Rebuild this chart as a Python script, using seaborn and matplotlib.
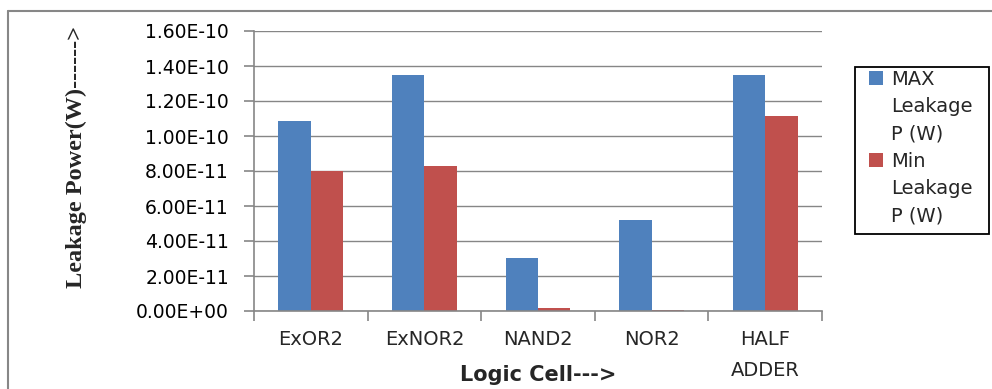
import matplotlib
matplotlib.use("Agg")
import matplotlib.pyplot as plt
from matplotlib.lines import Line2D
from matplotlib.patches import Patch, Rectangle
import seaborn as sns
import pandas as pd
import numpy as np

categories = ["ExOR2", "ExNOR2", "NAND2", "NOR2", "HALF\nADDER"]
max_leak = [1.086e-10, 1.349e-10, 3.03e-11, 5.2e-11, 1.349e-10]
min_leak = [8.0e-11, 8.3e-11, 1.7e-12, 6e-13, 1.114e-10]
series = ["MAX Leakage P (W)", "Min Leakage P (W)"]
legend_lines = [["MAX", "Leakage", "P (W)"], ["Min", "Leakage", "P (W)"]]
yticks = [0, 2e-11, 4e-11, 6e-11, 8e-11, 1e-10, 1.2e-10, 1.4e-10, 1.6e-10]
colors = ["#4F81BD", "#C0504D"]

df = pd.DataFrame({
    "cell": categories * 2,
    "value": max_leak + min_leak,
    "series": [series[0]] * len(categories) + [series[1]] * len(categories),
})

grid_c = "#868686"
sns.set_style("white", {"ytick.left": True, "xtick.bottom": True})
plt.rcParams["font.family"] = ["DejaVu Sans"]

W, H = 992, 389
fig = plt.figure(figsize=(W / 100, H / 100), dpi=100)
ax = fig.add_axes([254 / W, 1 - 311 / H, (822 - 254) / W, (311 - 31) / H])

sns.barplot(data=df, x="cell", y="value", hue="series", order=categories,
            hue_order=series, palette=colors, saturation=1,
            width=2 / 3.5, gap=0, ax=ax, legend=False, linewidth=0)

ax.set_ylim(0, 1.6e-10)
ax.set_xlim(-0.5, len(categories) - 0.5)
ax.set_yticks(yticks)
ax.set_yticklabels([f"{v:.2E}" for v in yticks])
ax.yaxis.grid(True, color=grid_c, linewidth=1.0)
ax.set_axisbelow(True)
for s in ["top", "right"]:
    ax.spines[s].set_visible(False)
for s in ["left", "bottom"]:
    ax.spines[s].set_color(grid_c)
    ax.spines[s].set_linewidth(1.2)

ax.set_xticks(np.arange(-0.5, len(categories), 1.0), minor=True)
ax.tick_params(axis="x", which="major", length=0, pad=14, labelsize=14)
ax.tick_params(axis="x", which="minor", length=7, width=1.2, color=grid_c,
               direction="out")
ax.tick_params(axis="y", which="major", left=True, length=7, width=1.2,
               color=grid_c, labelcolor="black", direction="out", pad=11,
               labelsize=13.5)
for t in ax.get_xticklabels():
    t.set_linespacing(1.8)
    t.set_verticalalignment("top")
ax.set_xlabel("")
ax.set_ylabel("")

handles, labels = [], []
for c, lines in zip(colors, legend_lines):
    for i, line in enumerate(lines):
        handles.append(Patch(facecolor=c if i == 0 else "none", edgecolor="none"))
        labels.append(line)
leg = ax.legend(handles, labels, loc="upper left",
                bbox_to_anchor=(869 / W, 1 - 70 / H), bbox_transform=fig.transFigure,
                borderaxespad=0, frameon=False, fontsize=14,
                handlelength=0.72, handleheight=0.72, handletextpad=0.4,
                labelspacing=0.43, borderpad=0)
fig.add_artist(Rectangle((855 / W, 1 - 234 / H), (989 - 855) / W, (234 - 67) / H,
                         transform=fig.transFigure, facecolor="none",
                         edgecolor="black", linewidth=1.3))

fig.text(538 / W, 1 - 375 / H, "Logic Cell--->", ha="center", va="center",
         fontsize=15, fontweight="bold")
fig.text(76 / W, 1 - 157 / H, "Leakage Power(W)------>", ha="center", va="center",
         rotation=90, fontsize=17.5, fontweight="bold", family=["Liberation Serif"])

fig.add_artist(Line2D([8 / W, 8 / W], [0, 1 - 11 / H], transform=fig.transFigure,
                      color="#878787", linewidth=1.5))
fig.add_artist(Line2D([8 / W, 1], [1 - 11 / H, 1 - 11 / H], transform=fig.transFigure,
                      color="#878787", linewidth=1.5))

fig.savefig("out.png", dpi=100)
